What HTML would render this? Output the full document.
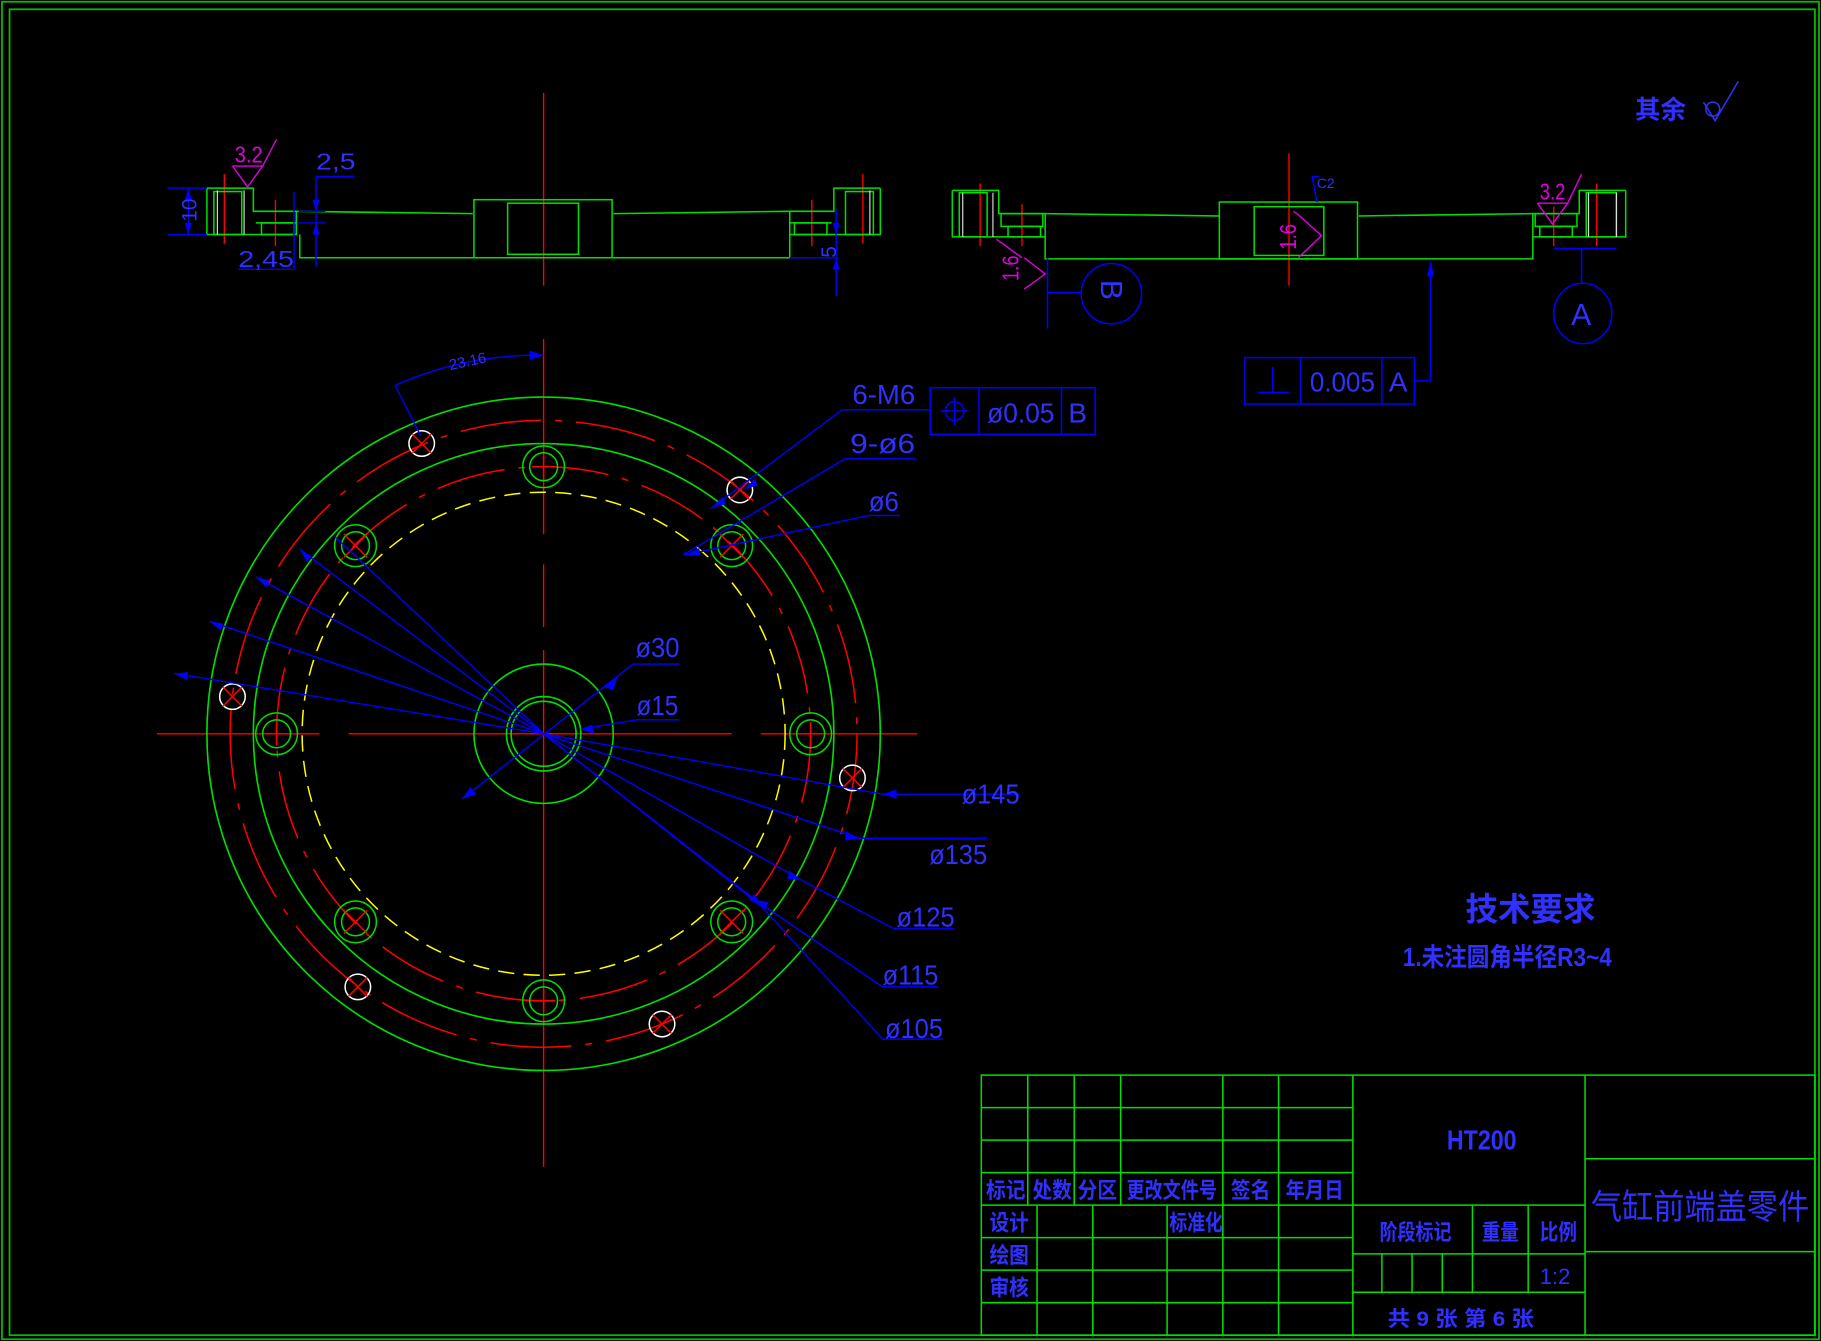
<!DOCTYPE html>
<html><head><meta charset="utf-8"><style>
html,body{margin:0;padding:0;background:#000;}
svg{display:block;}
text{font-family:"Liberation Sans","Noto Sans CJK SC",sans-serif;}
</style></head><body>
<svg width="1821" height="1341" viewBox="0 0 1568 1155" xmlns="http://www.w3.org/2000/svg">
<rect width="1568" height="1155" fill="#000"/>
<rect x="1.5" y="1.5" width="1565" height="1152" fill="none" stroke="#00c000" stroke-width="1.5"/>
<rect x="8" y="8" width="1555" height="1142" fill="none" stroke="#00c000" stroke-width="1.5"/>

<!-- ===== LEFT TOP VIEW ===== -->
<g stroke="#ff0000" stroke-width="1.2">
<line x1="468" y1="80" x2="468" y2="246"/>
<line x1="193" y1="150" x2="193" y2="210"/><line x1="743" y1="150" x2="743" y2="210"/>
<line x1="237" y1="172" x2="237" y2="212"/><line x1="699" y1="172" x2="699" y2="212"/>
</g>
<g fill="none" stroke="#00e000" stroke-width="1.3">
<polyline points="178,162 218,162 218,182 255,182 255,202 178,202 178,162"/>
<rect x="184" y="165" width="24" height="37"/>
<line x1="220" y1="192" x2="255" y2="192"/><rect x="225" y="192" width="28" height="10"/>
<polyline points="255,182 407,184"/><polyline points="528,184 680,182"/>
<polyline points="258,202 258,222 680,222 680,202"/>
<rect x="408" y="172" width="119" height="50"/>
<rect x="437" y="175" width="61" height="44"/>
<polyline points="758,162 718,162 718,182 680,182 680,202 758,202 758,162"/>
<rect x="728" y="165" width="24" height="37"/>
<line x1="680" y1="192" x2="716" y2="192"/><rect x="684" y="192" width="28" height="10"/>
</g>
<g stroke="#ddd" stroke-width="1"><line x1="187" y1="164" x2="187" y2="202"/><line x1="210" y1="164" x2="210" y2="202"/><line x1="749" y1="164" x2="749" y2="202"/></g>
<g stroke="#0000ff" stroke-width="1.2" fill="none">
<line x1="144" y1="162" x2="178" y2="162"/><line x1="144" y1="202" x2="178" y2="202"/>
<line x1="162" y1="162" x2="162" y2="202"/>
<line x1="272" y1="152" x2="305" y2="152"/><line x1="272" y1="152" x2="272" y2="230"/>
<line x1="257" y1="182" x2="280" y2="182"/><line x1="257" y1="192" x2="280" y2="192"/>
<line x1="253" y1="165" x2="253" y2="232"/><line x1="205" y1="232" x2="253" y2="232"/>
<line x1="680" y1="222" x2="722" y2="222"/><line x1="720" y1="180" x2="720" y2="255"/>
</g>
<g fill="#0000ff">
<polygon points="162,162 159,172 165,172"/><polygon points="162,202 159,192 165,192"/>
<polygon points="272,182 269,172 275,172"/><polygon points="272,192 269,202 275,202"/>
<polygon points="720,202 717,192 723,192"/><polygon points="720,222 717,232 723,232"/>
</g>
<g fill="#3030ff" font-size="20">
<text x="148" y="194" transform="rotate(-90 157 182)" font-size="18">10</text>
<text x="272" y="146" textLength="34" lengthAdjust="spacingAndGlyphs">2,5</text>
<text x="205" y="230" textLength="48" lengthAdjust="spacingAndGlyphs">2,45</text>
<text x="700" y="222" transform="rotate(-90 710 212)" font-size="18">5</text>
</g>
<g stroke="#e000e0" fill="none" stroke-width="1.2">
<polyline points="200,143 226,143 213,161 200,143"/><line x1="226" y1="143" x2="238" y2="120"/>
</g>
<text x="202" y="140" fill="#e000e0" font-size="20" textLength="24" lengthAdjust="spacingAndGlyphs">3.2</text>

<!-- ===== RIGHT TOP VIEW ===== -->
<g stroke="#ff0000" stroke-width="1.2">
<line x1="1110" y1="132" x2="1110" y2="246"/>
<line x1="844" y1="158" x2="844" y2="212"/><line x1="880" y1="176" x2="880" y2="212"/>
<line x1="1338" y1="178" x2="1338" y2="212"/><line x1="1375" y1="158" x2="1375" y2="212"/>
</g>
<g fill="none" stroke="#00e000" stroke-width="1.3">
<polyline points="820,164 860,164 860,184 900,184 900,204 820,204 820,164"/>
<rect x="826" y="166" width="24" height="38"/>
<rect x="862" y="184" width="36" height="11"/><rect x="868" y="195" width="28" height="9"/>
<polyline points="900,184 1050,186"/><polyline points="1170,186 1320,184"/>
<polyline points="900,204 900,223 1320,223 1320,204"/>
<rect x="1050" y="174" width="119" height="49"/>
<rect x="1080" y="178" width="60" height="42"/>
<polyline points="1400,164 1360,164 1360,184 1320,184 1320,204 1400,204 1400,164"/>
<rect x="1366" y="166" width="26" height="38"/>
<rect x="1322" y="184" width="36" height="11"/><rect x="1326" y="195" width="28" height="9"/>
</g>
<g stroke="#ddd" stroke-width="1"><line x1="829" y1="166" x2="829" y2="204"/><line x1="855" y1="166" x2="855" y2="204"/><line x1="1368" y1="166" x2="1368" y2="204"/><line x1="1392" y1="166" x2="1392" y2="204"/></g>
<g stroke="#0000ff" stroke-width="1.3" fill="none">
<line x1="902" y1="222" x2="902" y2="283"/><line x1="902" y1="252" x2="931" y2="252"/>
<ellipse cx="957" cy="253" rx="26" ry="26"/>
<line x1="1338" y1="214" x2="1392" y2="214"/><line x1="1362" y1="214" x2="1362" y2="244"/>
<ellipse cx="1363" cy="270" rx="25" ry="26"/>
<line x1="1232" y1="226" x2="1232" y2="328"/><line x1="1218" y1="328" x2="1232" y2="328"/>
<rect x="1072" y="308" width="146" height="40"/><line x1="1120" y1="308" x2="1120" y2="348"/><line x1="1190" y1="308" x2="1190" y2="348"/>
<line x1="1083" y1="338" x2="1110" y2="338"/><line x1="1096" y1="316" x2="1096" y2="338"/>
<polyline points="1136,152 1130,152 1134,174"/>
</g>
<polygon points="1232,224 1229,238 1235,238" fill="#0000ff"/>
<g fill="#3030ff">
<text x="945" y="262" font-size="26" transform="rotate(90 957 253)">B</text>
<text x="1353" y="280" font-size="26">A</text>
<text x="1128" y="337" font-size="24" textLength="56" lengthAdjust="spacingAndGlyphs">0.005</text>
<text x="1196" y="337" font-size="24">A</text>
<text x="1134" y="162" font-size="12">C2</text>
</g>
<g stroke="#e000e0" fill="none" stroke-width="1.2">
<polyline points="882,222 900,236 882,249"/><line x1="880" y1="222" x2="858" y2="206"/>
<polyline points="1118,185 1138,203 1118,222"/><line x1="1118" y1="185" x2="1114" y2="182"/>
<polyline points="1324,175 1350,175 1337,193 1324,175"/><line x1="1350" y1="175" x2="1362" y2="150"/>
</g>
<g fill="#e000e0" font-size="20">
<text x="0" y="0" transform="translate(877 242) rotate(-90)" textLength="22" lengthAdjust="spacingAndGlyphs">1.6</text>
<text x="0" y="0" transform="translate(1116 215) rotate(-90)" textLength="22" lengthAdjust="spacingAndGlyphs">1.6</text>
<text x="1326" y="172" textLength="22" lengthAdjust="spacingAndGlyphs">3.2</text>
</g>
<text x="1408" y="102" fill="#3030ff" font-size="22" font-family="Noto Serif CJK SC, serif" font-weight="bold">其余</text>
<g stroke="#3030ff" fill="none" stroke-width="1.3"><polyline points="1467,88 1477,104 1497,70"/><circle cx="1475" cy="94" r="6"/></g>

<!-- ===== MAIN VIEW ===== -->
<g stroke="#ff0000" stroke-width="1.2">
<line x1="468" y1="292" x2="468" y2="460"/><line x1="468" y1="486" x2="468" y2="540"/><line x1="468" y1="560" x2="468" y2="1005"/>
<line x1="135" y1="632" x2="275" y2="632"/><line x1="300" y1="632" x2="630" y2="632"/><line x1="655" y1="632" x2="790" y2="632"/>
</g>
<g fill="none">
<circle cx="468" cy="632" r="290" stroke="#00e000" stroke-width="1.4"/>
<circle cx="468" cy="632" r="250" stroke="#00e000" stroke-width="1.4"/>
<circle cx="468" cy="632" r="270" stroke="#ff0000" stroke-width="1.3" stroke-dasharray="70 12 6 12"/>
<circle cx="468" cy="632" r="230" stroke="#ff0000" stroke-width="1.3" stroke-dasharray="60 12 6 12"/>
<circle cx="468" cy="632" r="208" stroke="#ffff00" stroke-width="1.3" stroke-dasharray="14 8"/>
<circle cx="468" cy="632" r="60" stroke="#00e000" stroke-width="1.4"/>
<circle cx="468" cy="632" r="32" stroke="#00e000" stroke-width="1.4"/>
<circle cx="468" cy="632" r="28" stroke="#00e000" stroke-width="1.4"/>
</g>
<g fill="none" stroke-width="1.3">
<g stroke="#00e000">
<circle cx="468" cy="402" r="18"/><circle cx="468" cy="402" r="12"/>
<circle cx="630" cy="470" r="18"/><circle cx="630" cy="470" r="12"/>
<circle cx="698" cy="632" r="18"/><circle cx="698" cy="632" r="12"/>
<circle cx="630" cy="794" r="18"/><circle cx="630" cy="794" r="12"/>
<circle cx="468" cy="862" r="18"/><circle cx="468" cy="862" r="12"/>
<circle cx="306" cy="794" r="18"/><circle cx="306" cy="794" r="12"/>
<circle cx="238" cy="632" r="18"/><circle cx="238" cy="632" r="12"/>
<circle cx="306" cy="470" r="18"/><circle cx="306" cy="470" r="12"/>
</g>
<g stroke="#ffffff">
<circle cx="363" cy="382" r="11"/><circle cx="637" cy="422" r="11"/><circle cx="200" cy="600" r="11"/>
<circle cx="734" cy="670" r="11"/><circle cx="308" cy="850" r="11"/><circle cx="570" cy="882" r="11"/>
</g>
<g stroke="#ff0000">
<path d="M355,374l16,16M371,374l-16,16 M629,414l16,16M645,414l-16,16 M192,592l16,16M208,592l-16,16 M726,662l16,16M742,662l-16,16 M300,842l16,16M316,842l-16,16 M562,874l16,16M578,874l-16,16"/>
<path d="M620,460l20,20M640,460l-20,20 M620,784l20,20M640,784l-20,20 M296,784l20,20M316,784l-20,20 M296,460l20,20M316,460l-20,20 M458,402h20M468,392v20 M688,632h20M698,622v20 M458,862h20M468,852v20 M228,632h20M238,622v20"/>
</g>
</g>
<!-- leaders -->
<g stroke="#0000ff" stroke-width="1.2" fill="none">
<path d="M468,632L150,580 M468,632L180,535 M468,632L220,497 M468,632L258,473 M468,632L288,462"/>
<path d="M468,632L760,684H878 M468,632L740,722H850 M468,632L690,758L770,800H822 M468,632L650,775L760,850H808 M468,632L655,780L760,895H812"/>
<path d="M398,688L545,572H585 M500,628L548,620H585"/>
<path d="M612,438L725,353H800 M588,478L728,395H788 M590,478L748,444H775"/>
<path d="M340,332Q400,305 468,306 M340,332L362,375"/>
</g>
<rect x="801" y="334" width="142" height="40" fill="none" stroke="#0000ff" stroke-width="1.3"/>
<line x1="843" y1="334" x2="843" y2="374" stroke="#0000ff" stroke-width="1.3"/><line x1="914" y1="334" x2="914" y2="374" stroke="#0000ff" stroke-width="1.3"/>
<circle cx="822" cy="354" r="8" fill="none" stroke="#0000ff" stroke-width="1.3"/><path d="M810,354h24M822,342v24" stroke="#0000ff" stroke-width="1.3"/>
<g fill="#0000ff">
<polygon points="760,684 772,680 772,688"/><polygon points="740,722 728,716 728,724"/><polygon points="690,758 680,750 678,757"/>
<polygon points="650,775 658,783 662,777"/><polygon points="655,780 650,770 645,775"/>
<polygon points="150,580 162,579 161,586"/><polygon points="180,535 192,537 190,543"/><polygon points="220,497 232,500 229,506"/>
<polygon points="258,473 268,479 264,484"/><polygon points="398,688 405,678 410,684"/><polygon points="500,628 510,624 511,632"/>
<polygon points="520,592 532,582 528,594"/><polygon points="612,438 622,428 625,434"/><polygon points="640,422 650,412 652,418"/>
<polygon points="590,478 602,472 603,478"/><polygon points="468,306 456,302 456,310"/>
</g>
<g fill="#3030ff" font-size="24">
<text x="734" y="348" textLength="54" lengthAdjust="spacingAndGlyphs">6-M6</text>
<text x="850" y="364" textLength="58" lengthAdjust="spacingAndGlyphs">ø0.05</text>
<text x="920" y="364">B</text>
<text x="732" y="390" textLength="56" lengthAdjust="spacingAndGlyphs">9-ø6</text>
<text x="748" y="440" textLength="26" lengthAdjust="spacingAndGlyphs">ø6</text>
<text x="547" y="566" textLength="38" lengthAdjust="spacingAndGlyphs">ø30</text>
<text x="548" y="616" textLength="36" lengthAdjust="spacingAndGlyphs">ø15</text>
<text x="828" y="692" textLength="50" lengthAdjust="spacingAndGlyphs">ø145</text>
<text x="800" y="744" textLength="50" lengthAdjust="spacingAndGlyphs">ø135</text>
<text x="772" y="798" textLength="50" lengthAdjust="spacingAndGlyphs">ø125</text>
<text x="760" y="848" textLength="48" lengthAdjust="spacingAndGlyphs">ø115</text>
<text x="762" y="894" textLength="50" lengthAdjust="spacingAndGlyphs">ø105</text>
<text x="386" y="316" font-size="13" transform="rotate(-12 400 310)">23.16</text>
</g>

<!-- Tech requirements -->
<text x="1262" y="793" fill="#3030ff" font-size="28" font-weight="bold" font-family="Noto Serif CJK SC, serif">技术要求</text>
<text x="1208" y="832" fill="#3030ff" font-size="22" font-weight="bold" textLength="180" lengthAdjust="spacingAndGlyphs">1.未注圆角半径R3~4</text>

<!-- Title block -->
<g stroke="#00e000" stroke-width="1.3" fill="none">
<rect x="845" y="926" width="718" height="224"/>
<path d="M845,954H1165 M845,982H1165 M845,1010H1165 M845,1038H1165 M845,1066H1165 M845,1094H1165 M845,1122H1165"/>
<path d="M885,926V1038 M925,926V1038 M965,926V1038 M1053,926V1150 M1101,926V1150 M1165,926V1150"/>
<path d="M893,1038V1150 M941,1038V1150 M1005,1038V1150"/>
<path d="M1165,1038H1365 M1165,1080H1365 M1165,1113H1365 M1365,926V1150 M1365,998H1563 M1365,1078H1563"/>
<path d="M1190,1080V1113 M1216,1080V1113 M1242,1080V1113 M1268,1038V1113 M1316,1038V1113"/>
</g>
<g fill="#3030ff" font-size="19" font-family="Noto Serif CJK SC, serif" font-weight="bold">
<text x="849" y="1032" textLength="34" lengthAdjust="spacingAndGlyphs">标记</text><text x="889" y="1032" textLength="34" lengthAdjust="spacingAndGlyphs">处数</text><text x="928" y="1032" textLength="34" lengthAdjust="spacingAndGlyphs">分区</text>
<text x="970" y="1032" textLength="78" lengthAdjust="spacingAndGlyphs">更改文件号</text><text x="1060" y="1032" textLength="34" lengthAdjust="spacingAndGlyphs">签名</text><text x="1107" y="1032" textLength="50" lengthAdjust="spacingAndGlyphs">年月日</text>
<text x="852" y="1060" textLength="34" lengthAdjust="spacingAndGlyphs">设计</text><text x="1007" y="1060" textLength="46" lengthAdjust="spacingAndGlyphs">标准化</text>
<text x="852" y="1088" textLength="34" lengthAdjust="spacingAndGlyphs">绘图</text><text x="852" y="1116" textLength="34" lengthAdjust="spacingAndGlyphs">审核</text>
<text x="1188" y="1068" textLength="62" lengthAdjust="spacingAndGlyphs">阶段标记</text><text x="1276" y="1068" textLength="32" lengthAdjust="spacingAndGlyphs">重量</text><text x="1326" y="1068" textLength="32" lengthAdjust="spacingAndGlyphs">比例</text>
<text x="1326" y="1106" font-weight="normal">1:2</text>
<text x="1195" y="1142" font-size="18" textLength="126" lengthAdjust="spacingAndGlyphs">共 9 张  第 6 张</text>
</g>
<text x="1246" y="990" fill="#3030ff" font-size="24" font-weight="bold" textLength="60" lengthAdjust="spacingAndGlyphs">HT200</text>
<text x="1370" y="1050" fill="#3030ff" font-size="30" font-family="Noto Serif CJK SC, serif" textLength="188" lengthAdjust="spacingAndGlyphs">气缸前端盖零件</text>
</svg>
</body></html>
